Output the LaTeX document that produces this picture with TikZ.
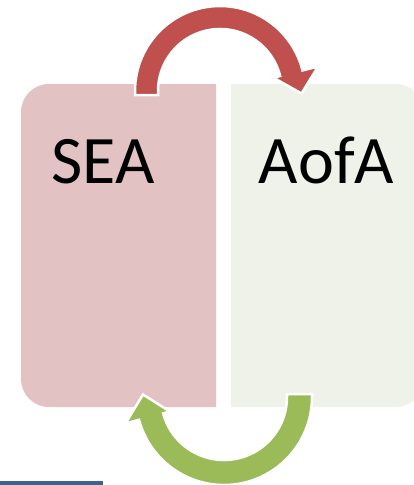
\documentclass[tikz,border=0pt]{standalone}
\usepackage{fontspec}
\setmainfont{Carlito}
\usetikzlibrary{calc}
\definecolor{pinkbox}{HTML}{E3C2C4}
\definecolor{greenbox}{HTML}{EFF2E9}
\definecolor{redarrow}{HTML}{C0504D}
\definecolor{greenarrow}{HTML}{9BBB59}
\definecolor{bluebar}{HTML}{3F6190}
\tikzset{
  boxfill/.style={fill=#1},
  bigarrow/.style={fill=#1, draw=white, line width=2.5pt, line join=miter},
  label/.style={font=\fontsize{68}{80}\selectfont, text=black, inner sep=0pt, anchor=base}
}
\begin{document}
\begin{tikzpicture}[x=1pt,y=1pt]
\useasboundingbox (0,0) rectangle (413,-485);
% boxes
\fill[boxfill=pinkbox] (216,-84) -- (49,-84) arc[start angle=90,end angle=180,radius=28]
  -- (21,-379) arc[start angle=180,end angle=270,radius=28] -- (216,-407) -- cycle;
\fill[boxfill=greenbox] (231,-84) -- (396,-84) arc[start angle=90,end angle=0,radius=28]
  -- (424,-379) arc[start angle=0,end angle=-90,radius=28] -- (231,-407) -- cycle;
% labels
\node[label] (sea) at (103,-183) {SEA};
\node[label] (aofa) at (326.5,-183) {AofA};
% red arrow (centre 220,-91)
\coordinate (rc) at (220,-91);
\filldraw[bigarrow=redarrow]
  (135,-95) -- (135,-91)
  arc[start angle=180,end angle=14,radius=85]
  -- ($(rc)+(14:101)$) -- (301.5,-93.5) -- ($(rc)+(14:55)$) -- ($(rc)+(14:62)$)
  arc[start angle=14,end angle=180,radius=62]
  -- (158,-95) -- cycle;
% green arrow (centre 224,-397)
\coordinate (gc) at (224,-397);
\filldraw[bigarrow=greenarrow]
  (312,-394) -- (312,-397)
  arc[start angle=0,end angle=-165,radius=88]
  -- ($(gc)+(-165:102)$) -- (143,-394.5) -- ($(gc)+(-165:56)$) -- ($(gc)+(-165:63)$)
  arc[start angle=-165,end angle=0,radius=63]
  -- (287,-394) -- cycle;
% blue bar
\fill[bluebar] (0,-481) rectangle (103,-486);
\end{tikzpicture}
\end{document}
